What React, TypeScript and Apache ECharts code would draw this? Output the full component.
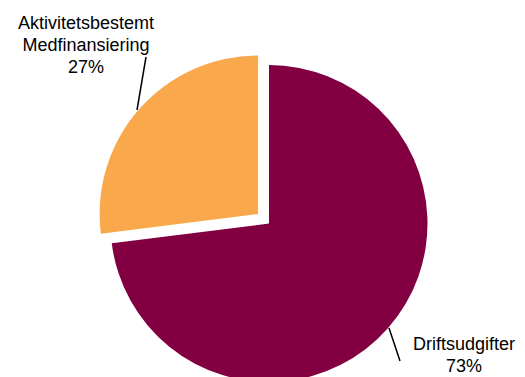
import React, { useEffect, useRef } from "react";
import * as echarts from "echarts";

const categories = ["Driftsudgifter", "Aktivitetsbestemt\nMedfinansiering"];
const values = [73, 27];
const colors = ["#820042", "#F9A84B"];
const exploded = [false, true];

export default function App() {
  const ref = useRef<HTMLDivElement>(null);
  useEffect(() => {
    if (!ref.current) return;
    const chart = echarts.init(ref.current, null, { renderer: "svg" });
    const cx = 269;
    const cy = 223.5;
    const R = 158.5;
    const explodeDist = 14.5;
    const total = values.reduce((a, b) => a + b, 0);
    let acc = 0;
    const mids = values.map((v) => {
      const m = ((acc + v / 2) / total) * 2 * Math.PI;
      acc += v;
      return m;
    });
    const labelPos = [
      { x: 464, y: 355, line: [[389, 328], [400, 361]] },
      { x: 86, y: 45, line: [[137, 110], [146, 57]] },
    ];
    const labelBase = {
      formatter: "{b}\n{d}%",
      fontFamily: "Liberation Sans, Arial, sans-serif",
      fontSize: 18,
      lineHeight: 22,
      color: "#000000",
      align: "center",
    };
    const makeSeries = (showExploded: boolean) => {
      const idx = exploded.findIndex((e) => e);
      const off = showExploded ? explodeDist : 0;
      const center = [cx + off * Math.sin(mids[idx]), cy - off * Math.cos(mids[idx])];
      return {
        type: "pie",
        center,
        radius: R,
        startAngle: 90,
        clockwise: true,
        silent: true,
        avoidLabelOverlap: false,
        data: categories.map((name, i) => {
          const visible = exploded[i] === showExploded;
          return {
            name,
            value: values[i],
            itemStyle: { color: colors[i], opacity: visible ? 1 : 0 },
            label: { show: visible },
            labelLine: { show: visible },
          };
        }),
        label: { show: true, ...labelBase },
        labelLine: {
          show: true,
          length: 10,
          length2: 0,
          lineStyle: { color: "#000000", width: 1.5 },
        },
        labelLayout: (params: any) => {
          const p = labelPos[params.dataIndex];
          return {
            x: p.x,
            y: p.y,
            align: "center",
            verticalAlign: "middle",
            labelLinePoints: p.line,
          };
        },
      };
    };
    chart.setOption({
      animation: false,
      backgroundColor: "#ffffff",
      series: [makeSeries(false), makeSeries(true)],
    });
    return () => chart.dispose();
  }, []);
  return <div ref={ref} style={{ width: 525, height: 377, position: "absolute", left: 0, top: 0 }} />;
}
